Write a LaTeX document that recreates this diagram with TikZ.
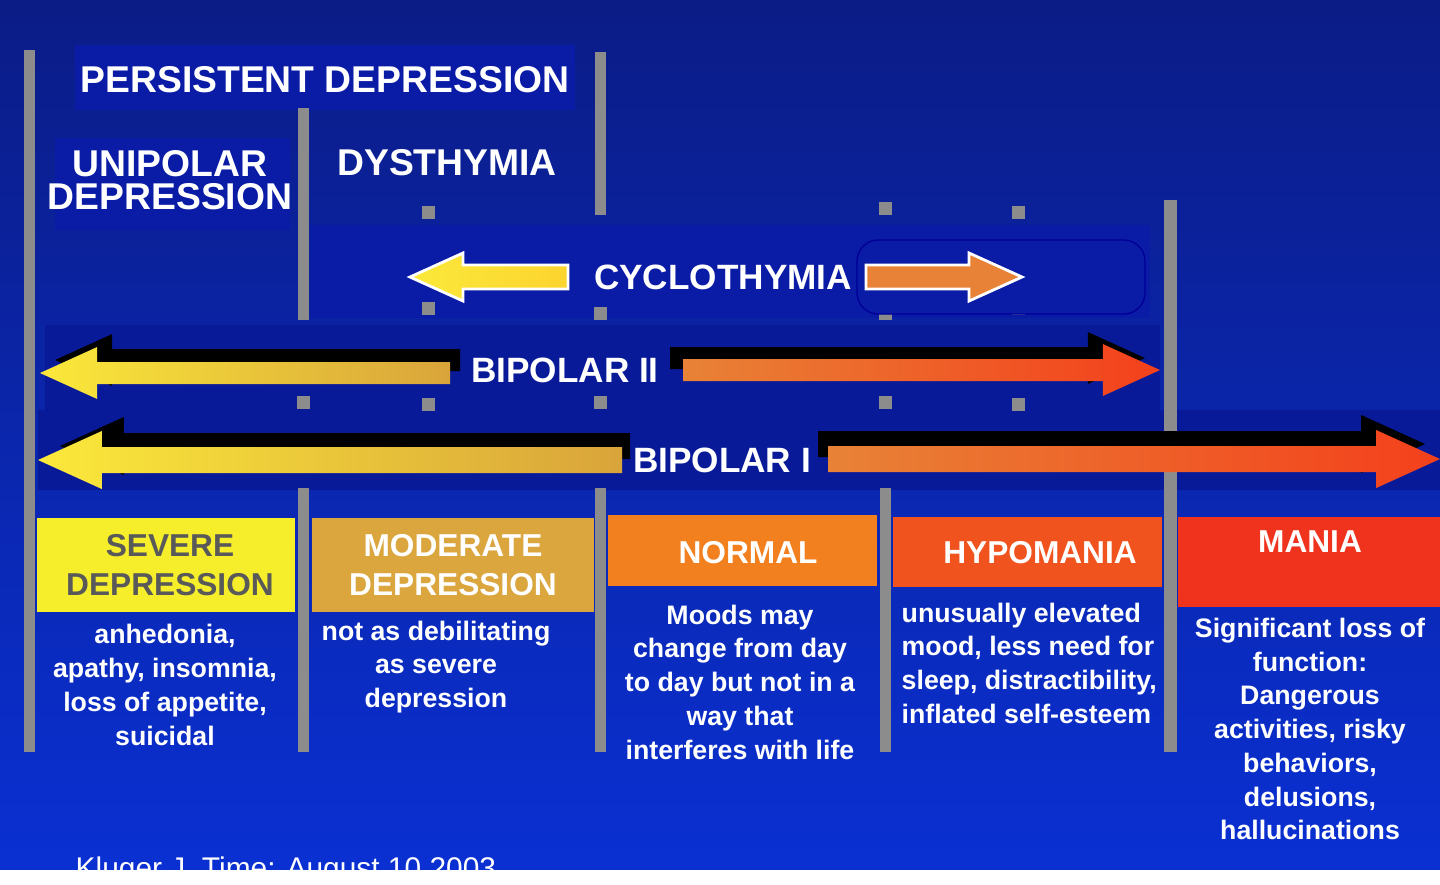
\documentclass[tikz,border=0pt]{standalone}
\usepackage{fontspec}
\setmainfont{Liberation Sans}
\usetikzlibrary{positioning}
\definecolor{bgtop}{HTML}{0B1C86}
\definecolor{bgbot}{HTML}{0A30D2}
\definecolor{panel}{HTML}{0A1CA6}
\definecolor{severe}{HTML}{F6EE2A}
\definecolor{moderate}{HTML}{DBA63E}
\definecolor{normalc}{HTML}{F2801E}
\definecolor{hypoc}{HTML}{F0531E}
\definecolor{maniac}{HTML}{F0331C}
\definecolor{arryel}{HTML}{FBE93A}
\definecolor{arrgold}{HTML}{D9A43A}
\definecolor{arrora}{HTML}{E88236}
\definecolor{arrred}{HTML}{F4401C}
% tip x, tail x, y, half shaft, half head, shading
\newcommand{\leftarr}[6]{%
  \shade[#6] (#1,#3) -- (#1+#5*2.2,#3-#5) -- (#1+#5*2.2,#3-#4) -- (#2,#3-#4)
    -- (#2,#3+#4) -- (#1+#5*2.2,#3+#4) -- (#1+#5*2.2,#3+#5) -- cycle;}
\newcommand{\rightarr}[6]{%
  \shade[#6] (#1,#3) -- (#1-#5*2.2,#3-#5) -- (#1-#5*2.2,#3-#4) -- (#2,#3-#4)
    -- (#2,#3+#4) -- (#1-#5*2.2,#3+#4) -- (#1-#5*2.2,#3+#5) -- cycle;}

\begin{document}
\begin{tikzpicture}[x=0.01cm,y=-0.01cm]
    \tikzstyle{bar}=[fill=black!45,draw=none]
    \tikzstyle{tick}=[fill=black!45,draw=none,minimum size=0.13cm,inner sep=0pt]
    \tikzstyle{heading}=[text=white,font=\bfseries\fontsize{10.6}{12.4}\selectfont,align=center,inner sep=0pt]
    \tikzstyle{arrlabel}=[text=white,font=\bfseries\fontsize{10}{12}\selectfont,inner sep=0pt]
    \tikzstyle{level}=[font=\bfseries\fontsize{9}{11}\selectfont,align=center,inner sep=0pt]
    \tikzstyle{descr}=[text=white,font=\bfseries\fontsize{7.6}{9.6}\selectfont,align=center,inner sep=0pt]
    \tikzstyle{shadow}=[left color=black,right color=black]

    % background
    \shade[top color=bgtop,bottom color=bgbot] (0,0) rectangle (1440,869);

    % top labels
    \fill[panel] (75,45) rectangle (575,110);
    \node[heading] (persist) at (325,80) {PERSISTENT DEPRESSION};
    \fill[panel] (55,138) rectangle (290,230);
    \node[heading] (unipolar) at (170,180) {UNIPOLAR\\[-3pt]DEPRESSION};
    \node[heading] (dysthymia) at (447,163) {DYSTHYMIA};

    % bands behind the arrows
    \fill[panel] (310,225) rectangle (1150,318);
    \fill[panel!92!black] (45,325) rectangle (1160,410);
    \fill[panel!92!black] (38,410) rectangle (1440,490);

    % vertical bars
    \fill[bar] (24,50) rectangle (35,752);
    \fill[bar] (298,108) rectangle (309,320);
    \fill[bar] (298,488) rectangle (309,752);
    \fill[bar] (595,52) rectangle (606,215);
    \fill[bar] (595,488) rectangle (606,752);
    \fill[bar] (880,488) rectangle (891,752);
    \fill[bar] (1164,200) rectangle (1177,752);
    \foreach \x/\y in {428/212,428/308,428/404,303/402,600/313,600/402,885/208,885/313,885/402,1018/212,1018/308,1018/404}
      \node[tick] at (\x,\y) {};

    % cyclothymia
    \draw[fill=panel,draw=blue!60!black,rounded corners=6] (857,240) rectangle (1145,314);
    \leftarr{410}{568}{277}{12}{24}{left color=arryel,right color=arryel!80!orange}
    \draw[white,line width=0.8pt] (410,277) -- (463,253) -- (463,265) -- (568,265) -- (568,289) -- (463,289) -- (463,301) -- cycle;
    \node[arrlabel] (cyclo) at (723,277) {CYCLOTHYMIA};
    \rightarr{1022}{866}{277}{12}{24}{left color=arrora,right color=arrora}
    \draw[white,line width=0.8pt] (1022,277) -- (969,253) -- (969,265) -- (866,265) -- (866,289) -- (969,289) -- (969,301) -- cycle;

    % bipolar II
    \leftarr{55}{460}{360}{11}{26}{shadow}
    \rightarr{1145}{670}{358}{11}{26}{shadow}
    \leftarr{40}{450}{373}{11}{26}{left color=arryel,right color=arrgold}
    \node[arrlabel] (bip2) at (565,370) {BIPOLAR II};
    \rightarr{1160}{683}{370}{11}{26}{left color=arrora,right color=arrred}

    % bipolar I
    \leftarr{60}{630}{446}{13}{29}{shadow}
    \rightarr{1425}{818}{444}{13}{29}{shadow}
    \leftarr{38}{622}{460}{13}{29}{left color=arryel,right color=arrgold}
    \node[arrlabel] (bip1) at (722,460) {BIPOLAR I};
    \rightarr{1440}{828}{459}{13}{29}{left color=arrora,right color=arrred}

    % mood levels
    \fill[severe] (37,518) rectangle (295,612);
    \node[level,text=black!65] (severe) at (170,565) {SEVERE\\DEPRESSION};
    \fill[moderate] (312,518) rectangle (594,612);
    \node[level,text=white] (moderate) at (453,565) {MODERATE\\DEPRESSION};
    \fill[normalc] (608,515) rectangle (877,586);
    \node[level,text=white] (normal) at (748,553) {NORMAL};
    \fill[hypoc] (893,517) rectangle (1162,587);
    \node[level,text=white] (hypo) at (1040,553) {HYPOMANIA};
    \fill[maniac] (1178,517) rectangle (1440,607);
    \node[level,text=white] (mania) at (1310,542) {MANIA};

    % descriptions
    \node[descr] (dsevere) at (165,685) {anhedonia,\\apathy, insomnia,\\loss of appetite,\\suicidal};
    \node[descr] (dmoderate) at (436,667) {not as debilitating\\as severe\\depression};
    \node[descr] (dnormal) at (740,682) {Moods may\\change from day\\to day but not in a\\way that\\interferes with life};
    \node[descr,align=left,anchor=north west] (dhypo) at (901,602) {unusually elevated\\mood, less need for\\sleep, distractibility,\\inflated self-esteem};
    \node[descr] (dmania) at (1310,729) {Significant loss of\\function:\\Dangerous\\activities, risky\\behaviors,\\delusions,\\hallucinations};

    \node[text=white,font=\fontsize{8.5}{10}\selectfont,anchor=north west,inner sep=0pt] (source) at (75,856) {Kluger J. Time: August 10 2003};
    \useasboundingbox (0,0) rectangle (1440,869);
\end{tikzpicture}
\end{document}
